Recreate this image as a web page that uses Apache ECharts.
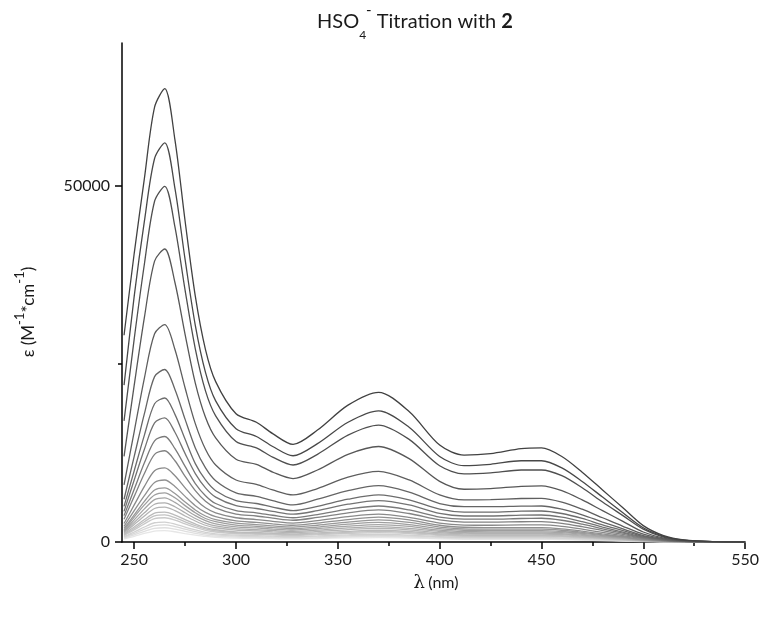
<!DOCTYPE html>
<html>
<head>
<meta charset="utf-8">
<script src="https://cdn.jsdelivr.net/npm/echarts@6/dist/echarts.min.js"></script>
<style>
  html, body { margin: 0; padding: 0; background: #fff; }
  #chart { width: 762px; height: 621px; }
</style>
</head>
<body>
<div id="chart"></div>
<script>
// wavelengths (nm) shared by every spectrum
const wavelengths = [245, 250, 255, 260, 265, 270, 275, 280, 285, 290, 300, 310, 318, 328, 340, 355, 370, 385, 400, 412, 425, 440, 450, 460, 470, 480, 490, 500, 510, 520, 535, 550];

// molar absorptivity, one array per titration step (darkest first)
const curve01 = [29000, 40500, 51000, 61000, 63600, 56400, 45000, 34500, 27000, 22500, 18000, 16800, 15200, 13700, 15700, 19200, 21000, 18300, 13600, 12200, 12400, 13100, 13200, 12000, 9800, 7300, 4800, 2300, 900, 300, 50, 0];
const curve02 = [22000, 34500, 45000, 53800, 56000, 49600, 39600, 30400, 23800, 19800, 15900, 14800, 13400, 12100, 13800, 16800, 18400, 16100, 12000, 10700, 10900, 11400, 11400, 10400, 8500, 6300, 4100, 2000, 800, 260, 40, 0];
const curve03 = [17000, 28500, 39000, 47800, 49900, 44200, 35300, 27100, 21200, 17700, 14100, 13200, 11900, 10800, 12300, 15000, 16400, 14400, 10700, 9550, 9700, 10100, 10100, 9300, 7600, 5600, 3700, 1800, 700, 230, 40, 0];
const curve04 = [12000, 22000, 31500, 39400, 41100, 36400, 29100, 22300, 17500, 14600, 11600, 10900, 9800, 8900, 10100, 12300, 13400, 11700, 8500, 7400, 7500, 7800, 7860, 7200, 5900, 4400, 2900, 1400, 550, 180, 30, 0];
const curve05 = [8000, 15500, 23000, 29200, 30500, 27000, 21600, 16600, 13000, 10800, 8700, 8100, 7300, 6600, 7500, 9100, 9900, 8700, 6600, 5900, 5950, 6100, 6130, 5600, 4600, 3400, 2200, 1100, 430, 140, 20, 0];
const curve06 = [6000, 12000, 18000, 23200, 24200, 21400, 17200, 13200, 10400, 8600, 6900, 6400, 5800, 5200, 6000, 7200, 7900, 7000, 5400, 4960, 4950, 5030, 5050, 4600, 3800, 2800, 1850, 900, 360, 120, 20, 0];
const curve07 = [5000, 10000, 15000, 19400, 20200, 17900, 14400, 11000, 8700, 7200, 5800, 5400, 4900, 4400, 5000, 6000, 6600, 5900, 4600, 4200, 4200, 4330, 4350, 4000, 3300, 2400, 1600, 780, 310, 100, 15, 0];
const curve08 = [4300, 8700, 13000, 16700, 17400, 15400, 12400, 9600, 7600, 6300, 5100, 4700, 4300, 3900, 4400, 5300, 5800, 5200, 4000, 3650, 3650, 3770, 3790, 3480, 2850, 2100, 1400, 680, 270, 90, 15, 0];
const curve09 = [3700, 7400, 11100, 14200, 14800, 13100, 10600, 8200, 6500, 5400, 4400, 4100, 3750, 3400, 3850, 4600, 5050, 4500, 3500, 3200, 3200, 3300, 3330, 3050, 2500, 1850, 1230, 600, 240, 80, 10, 0];
const curve10 = [3200, 6400, 9600, 12300, 12800, 11400, 9200, 7200, 5700, 4800, 3900, 3650, 3350, 3050, 3450, 4100, 4500, 4000, 3100, 2800, 2780, 2840, 2850, 2620, 2150, 1600, 1060, 520, 210, 70, 10, 0];
const curve11 = [2600, 5200, 7800, 10000, 10400, 9300, 7600, 6000, 4800, 4100, 3400, 3150, 2900, 2650, 3000, 3550, 3900, 3450, 2650, 2380, 2350, 2390, 2390, 2200, 1800, 1340, 890, 440, 180, 60, 10, 0];
const curve12 = [2200, 4400, 6500, 8350, 8700, 7800, 6400, 5100, 4150, 3550, 2950, 2750, 2550, 2350, 2650, 3150, 3500, 3100, 2350, 2070, 2020, 2010, 2010, 1850, 1520, 1130, 750, 370, 150, 50, 10, 0];
const curve13 = [1900, 3800, 5700, 7300, 7600, 6800, 5600, 4500, 3650, 3150, 2650, 2450, 2250, 2100, 2350, 2800, 3100, 2750, 2100, 1850, 1800, 1800, 1800, 1650, 1360, 1010, 670, 330, 130, 45, 10, 0];
const curve14 = [1700, 3500, 5200, 6600, 6900, 6200, 5100, 4100, 3300, 2850, 2380, 2200, 2030, 1880, 2100, 2500, 2750, 2450, 1870, 1650, 1600, 1600, 1600, 1470, 1210, 900, 600, 300, 120, 40, 5, 0];
const curve15 = [1550, 3100, 4650, 5950, 6200, 5550, 4600, 3700, 3000, 2550, 2130, 1970, 1820, 1680, 1880, 2230, 2450, 2180, 1670, 1470, 1430, 1430, 1430, 1310, 1080, 800, 530, 260, 100, 35, 5, 0];
const curve16 = [1400, 2750, 4100, 5300, 5500, 4950, 4100, 3300, 2650, 2250, 1880, 1740, 1610, 1490, 1660, 1970, 2150, 1920, 1470, 1300, 1260, 1260, 1260, 1160, 950, 710, 470, 230, 90, 30, 5, 0];
const curve17 = [1250, 2450, 3650, 4700, 4900, 4400, 3650, 2950, 2350, 2000, 1670, 1550, 1430, 1320, 1470, 1740, 1900, 1700, 1300, 1150, 1120, 1120, 1120, 1030, 840, 630, 420, 200, 80, 30, 5, 0];
const curve18 = [1100, 2100, 3150, 4050, 4200, 3780, 3130, 2530, 2020, 1720, 1430, 1330, 1230, 1140, 1270, 1500, 1650, 1470, 1130, 1000, 970, 970, 970, 890, 730, 540, 360, 180, 70, 25, 5, 0];
const curve19 = [1000, 1900, 2850, 3650, 3800, 3420, 2830, 2290, 1830, 1560, 1300, 1200, 1110, 1030, 1150, 1350, 1480, 1320, 1020, 900, 880, 880, 880, 800, 660, 490, 330, 160, 65, 20, 5, 0];
const curve20 = [900, 1700, 2550, 3270, 3400, 3060, 2530, 2050, 1640, 1400, 1160, 1080, 1000, 920, 1030, 1210, 1320, 1180, 910, 800, 780, 780, 780, 720, 590, 440, 290, 140, 55, 20, 5, 0];
const curve21 = [750, 1400, 2100, 2700, 2800, 2520, 2090, 1690, 1350, 1150, 960, 890, 820, 760, 850, 1000, 1090, 970, 750, 660, 640, 640, 640, 590, 490, 360, 240, 120, 45, 15, 0, 0];
const curve22 = [650, 1200, 1800, 2310, 2400, 2160, 1790, 1450, 1160, 990, 820, 760, 700, 650, 730, 860, 940, 840, 640, 570, 550, 550, 550, 500, 420, 310, 210, 100, 40, 15, 0, 0];
const curve23 = [550, 1000, 1500, 1920, 2000, 1800, 1490, 1210, 970, 820, 690, 640, 590, 540, 610, 720, 780, 700, 540, 470, 460, 460, 460, 420, 350, 260, 170, 85, 35, 10, 0, 0];
const curve24 = [450, 800, 1200, 1540, 1600, 1440, 1190, 970, 780, 660, 550, 510, 470, 430, 490, 570, 620, 560, 430, 380, 370, 370, 370, 340, 280, 210, 140, 70, 30, 10, 0, 0];

const curves = [curve01, curve02, curve03, curve04, curve05, curve06, curve07, curve08,
  curve09, curve10, curve11, curve12, curve13, curve14, curve15, curve16,
  curve17, curve18, curve19, curve20, curve21, curve22, curve23, curve24];

const xMajorTicks = [250, 300, 350, 400, 450, 500, 550];
const xMinorTicks = [275, 325, 375, 425, 475, 525];
const yMajorTicks = [0, 50000];
const yMinorTicks = [25000];

const fontFamily = 'Lato, "Open Sans", sans-serif';
const textColor = '#1a1a1a';
const axisLineStyle = { color: '#000', width: 1.5 };

const chart = echarts.init(document.getElementById('chart'));

// light curves first so the dark ones sit on top
const series = [];
for (let i = curves.length - 1; i >= 0; i--) {
  const g = Math.round(65 + i * 165 / (curves.length - 1));
  series.push({
    type: 'line',
    xAxisIndex: 0,
    yAxisIndex: 0,
    data: wavelengths.map((w, j) => [w, curves[i][j]]),
    showSymbol: false,
    smooth: 0.3,
    silent: true,
    lineStyle: { color: `rgb(${g},${g},${g})`, width: 1.3 }
  });
}

const labelStyle = { fontFamily, fontSize: 16, color: textColor };

chart.setOption({
  animation: false,
  grid: { left: 122, right: 16, top: 43, bottom: 79 },
  xAxis: [
    {
      type: 'value',
      min: 244,
      max: 550,
      position: 'bottom',
      axisLine: { show: true, lineStyle: axisLineStyle },
      axisTick: { show: true, customValues: xMajorTicks, length: 7, lineStyle: axisLineStyle },
      axisLabel: { ...labelStyle, customValues: xMajorTicks, margin: 10, formatter: v => String(v) },
      splitLine: { show: false }
    },
    {
      type: 'value',
      min: 244,
      max: 550,
      position: 'bottom',
      axisLine: { show: false },
      axisTick: { show: true, customValues: xMinorTicks, length: 4, lineStyle: axisLineStyle },
      axisLabel: { show: false },
      splitLine: { show: false }
    }
  ],
  yAxis: [
    {
      type: 'value',
      min: 0,
      max: 70000,
      position: 'left',
      axisLine: { show: true, lineStyle: axisLineStyle },
      axisTick: { show: true, customValues: yMajorTicks, length: 7, lineStyle: axisLineStyle },
      axisLabel: { ...labelStyle, customValues: yMajorTicks, margin: 12, formatter: v => String(v) },
      splitLine: { show: false }
    },
    {
      type: 'value',
      min: 0,
      max: 70000,
      position: 'left',
      axisLine: { show: false },
      axisTick: { show: true, customValues: yMinorTicks, length: 4, lineStyle: axisLineStyle },
      axisLabel: { show: false },
      splitLine: { show: false }
    }
  ],
  graphic: [
    {
      type: 'text',
      x: 415,
      y: 22,
      style: {
        text: '{n|HSO}{sub|4}{sup|-}{n| Titration with }{b|2}',
        align: 'center',
        verticalAlign: 'middle',
        rich: {
          n: { fontFamily, fontSize: 20, fill: textColor, lineHeight: 38, verticalAlign: 'middle' },
          sub: { fontFamily, fontSize: 12, fill: textColor, lineHeight: 12, verticalAlign: 'bottom' },
          sup: { fontFamily, fontSize: 15, fill: textColor, lineHeight: 15, verticalAlign: 'top' },
          b: { fontFamily, fontSize: 20, fontWeight: 'bold', fill: textColor, lineHeight: 38, verticalAlign: 'middle' }
        }
      }
    },
    {
      type: 'text',
      x: 29,
      y: 312,
      rotation: Math.PI / 2,
      style: {
        text: '{n|ε (M}{sup|-1}{n|*cm}{sup|-1}{n|)}',
        align: 'center',
        verticalAlign: 'middle',
        rich: {
          n: { fontFamily, fontSize: 17, fill: textColor, lineHeight: 32, verticalAlign: 'middle' },
          sup: { fontFamily, fontSize: 13, fill: textColor, lineHeight: 13, verticalAlign: 'top' }
        }
      }
    },
    {
      type: 'text',
      x: 436,
      y: 583,
      style: {
        text: '{l|λ} {n|(nm)}',
        align: 'center',
        verticalAlign: 'middle',
        rich: {
          l: { fontFamily: '"DejaVu Serif", serif', fontSize: 18, fill: textColor },
          n: { fontFamily, fontSize: 16, fill: textColor }
        }
      }
    }
  ],
  series
});
</script>
</body>
</html>
